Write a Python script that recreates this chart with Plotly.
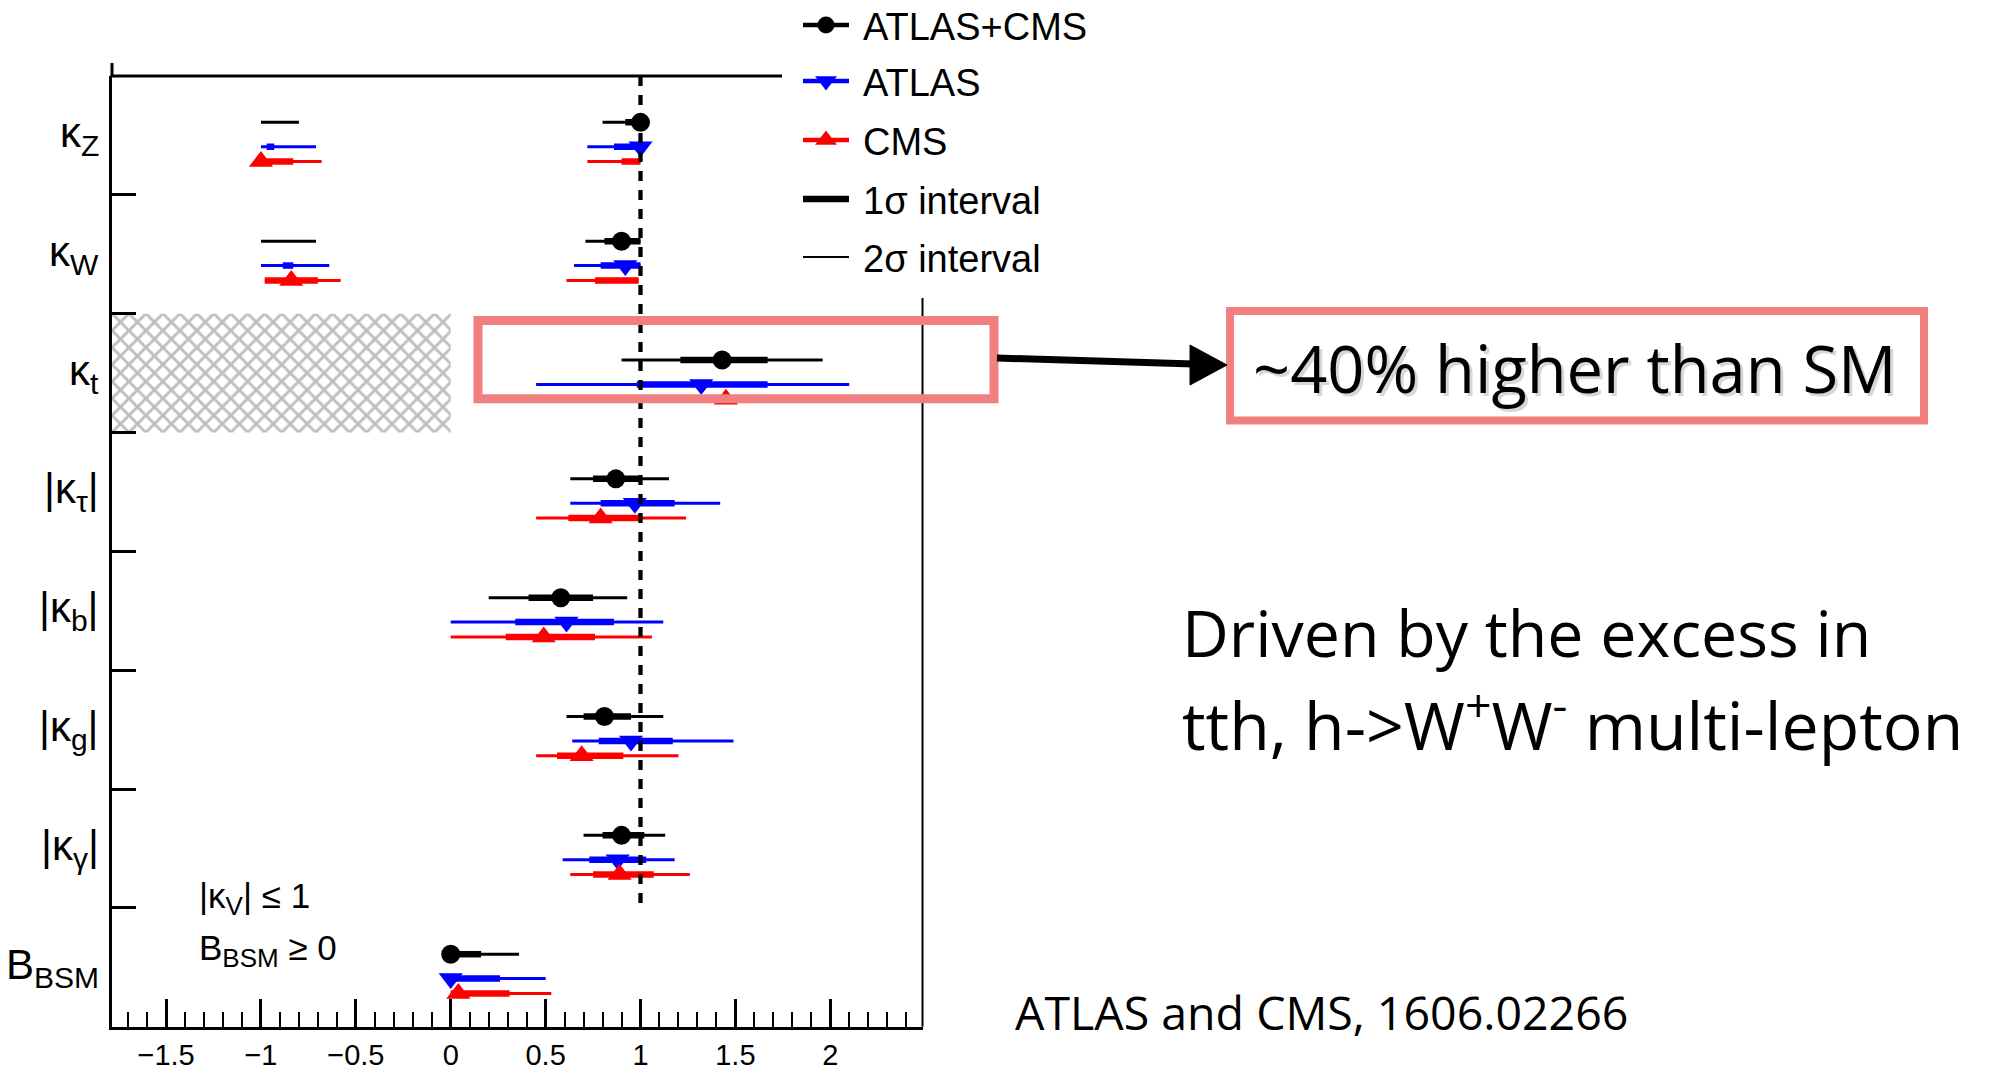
import plotly.graph_objects as go

# ---------------- data ----------------
categories = ["κ<sub>Z</sub>", "κ<sub>W</sub>", "κ<sub>t</sub>", "|κ<sub>τ</sub>|",
              "|κ<sub>b</sub>|", "|κ<sub>g</sub>|", "|κ<sub>γ</sub>|", "B<sub>BSM</sub>"]

comb_central = [1.00, 0.90, 1.43, 0.87, 0.58, 0.81, 0.90, 0.00]
comb_1sigma = [[(0.92, 1.00)], [(0.81, 1.00)], [(1.21, 1.67)], [(0.75, 1.00)],
               [(0.41, 0.75)], [(0.70, 0.95)], [(0.80, 1.02)], [(0.00, 0.16)]]
comb_2sigma = [[(-1.00, -0.80), (0.80, 1.00)], [(-1.00, -0.71), (0.71, 1.00)],
               [(0.90, 1.96)], [(0.63, 1.15)], [(0.20, 0.93)], [(0.61, 1.12)],
               [(0.70, 1.13)], [(0.00, 0.36)]]

atlas_central = [1.00, 0.92, 1.32, 0.97, 0.61, 0.95, 0.88, 0.00]
atlas_1sigma = [[(-0.97, -0.93), (0.86, 1.00)], [(-0.885, -0.83), (0.79, 1.00)],
                [(0.98, 1.67)], [(0.79, 1.18)], [(0.34, 0.86)], [(0.78, 1.17)],
                [(0.73, 1.03)], [(0.00, 0.26)]]
atlas_2sigma = [[(-1.00, -0.71), (0.72, 1.00)], [(-1.00, -0.64), (0.65, 1.00)],
                [(0.45, 2.10)], [(0.63, 1.42)], [(0.00, 1.12)], [(0.64, 1.49)],
                [(0.59, 1.18)], [(0.00, 0.50)]]

cms_central = [-1.00, -0.84, 1.45, 0.79, 0.49, 0.69, 0.89, 0.04]
cms_1sigma = [[(-1.00, -0.83), (0.90, 1.00)], [(-0.98, -0.70), (0.76, 0.99)],
              [(1.20, 1.75)], [(0.62, 1.00)], [(0.29, 0.76)], [(0.56, 0.91)],
              [(0.75, 1.07)], [(0.00, 0.31)]]
cms_2sigma = [[(-1.00, -0.68), (0.72, 1.00)], [(-0.98, -0.58), (0.61, 0.99)],
              [(1.00, 2.00)], [(0.45, 1.24)], [(0.00, 1.06)], [(0.45, 1.20)],
              [(0.63, 1.26)], [(0.00, 0.53)]]

sm_value = 1.0
kt_unphysical = [-1.785, 0.0]   # hatched region for kappa_t
x_range = [-1.785, 2.486]

# ---------------- styles ----------------
W, H = 1992, 1068
PL, PR, PT, PB = 112, 922.5, 76, 1026.7   # plot-area pixels
FONT = "Liberation Sans, Arial, Helvetica, sans-serif"
SLIDE_FONT = "Open Sans, sans-serif"
CORAL = "#F08080"

series = [
    dict(name="ATLAS+CMS", color="#000000", symbol="circle", size=19, off=0.39,
         c=comb_central, s1=comb_1sigma, s2=comb_2sigma),
    dict(name="ATLAS", color="#0000FF", symbol="triangle-down", size=21, off=0.595,
         c=atlas_central, s1=atlas_1sigma, s2=atlas_2sigma),
    dict(name="CMS", color="#FF0000", symbol="triangle-up", size=21, off=0.72,
         c=cms_central, s1=cms_1sigma, s2=cms_2sigma),
]


def sub(t, px):
    return "<sub><span style='font-size:%dpx'>%s</span></sub>" % (px, t)


fig = go.Figure()

# hatched region (kappa_t < 0)
kt_idx = categories.index("κ<sub>t</sub>")
fig.add_trace(go.Bar(
    y=[kt_idx + 0.5], x=[kt_unphysical[1] - kt_unphysical[0]], base=[kt_unphysical[0]],
    width=[1], orientation="h", showlegend=False, hoverinfo="skip",
    marker=dict(color="white", line_width=0,
                pattern=dict(shape="x", fgcolor="#BEBEBE", bgcolor="white",
                             size=12, solidity=0.42)),
))


def segs(intervals, off):
    xs, ys = [], []
    for i, ints in enumerate(intervals):
        for lo, hi in ints:
            xs += [lo, hi, None]
            ys += [i + off, i + off, None]
    return xs, ys


for s in series:
    x2, y2 = segs(s["s2"], s["off"])
    fig.add_trace(go.Scatter(x=x2, y=y2, mode="lines", showlegend=False,
                             line=dict(color=s["color"], width=3), hoverinfo="skip"))
for s in series:
    x1, y1 = segs(s["s1"], s["off"])
    fig.add_trace(go.Scatter(x=x1, y=y1, mode="lines", showlegend=False,
                             line=dict(color=s["color"], width=6.5), hoverinfo="skip"))
for s in series:
    fig.add_trace(go.Scatter(x=s["c"], y=[i + s["off"] for i in range(len(categories))],
                             mode="markers", showlegend=False, name=s["name"],
                             marker=dict(symbol=s["symbol"], size=s["size"],
                                         color=s["color"], line_width=0)))

# SM dashed line
fig.add_trace(go.Scatter(x=[sm_value, sm_value], y=[0, len(categories) - 1],
                         mode="lines", showlegend=False, hoverinfo="skip",
                         line=dict(color="black", width=4.3, dash="10px,9px")))

# ---------------- pixel overlay (legend, frame, annotation arrow) ----------------
leg_rows = [25, 81, 140, 199, 257]
leg_x0, leg_x1, leg_xm = 803, 849, 826
for s, ry in zip(series, leg_rows):
    fig.add_trace(go.Scatter(x=[leg_x0, leg_x1], y=[ry, ry], mode="lines",
                             xaxis="x2", yaxis="y2", showlegend=False, hoverinfo="skip",
                             line=dict(color=s["color"], width=4.5)))
    fig.add_trace(go.Scatter(x=[leg_xm], y=[ry], mode="markers", xaxis="x2", yaxis="y2",
                             showlegend=False, hoverinfo="skip",
                             marker=dict(symbol=s["symbol"], size=s["size"] - 2,
                                         color=s["color"], line_width=0)))
fig.add_trace(go.Scatter(x=[leg_x0, leg_x1], y=[leg_rows[3]] * 2, mode="lines",
                         xaxis="x2", yaxis="y2", showlegend=False, hoverinfo="skip",
                         line=dict(color="black", width=6.5)))
fig.add_trace(go.Scatter(x=[leg_x0, leg_x1], y=[leg_rows[4]] * 2, mode="lines",
                         xaxis="x2", yaxis="y2", showlegend=False, hoverinfo="skip",
                         line=dict(color="black", width=2)))

leg_texts = ["ATLAS+CMS", "ATLAS", "CMS", "1σ interval", "2σ interval"]
annotations = []
for t, ry in zip(leg_texts, leg_rows):
    annotations.append(dict(x=861, y=ry + 2, xref="x2", yref="y2", text=t,
                            showarrow=False, xanchor="left", yanchor="middle",
                            font=dict(family=FONT, size=38, color="black")))

# category labels on the left (bigger subscripts, as in the ROOT original)
for i, lab in enumerate(categories):
    main, rest = lab.split("<sub>")
    subtxt, tail = rest.split("</sub>")
    txt = main + sub(subtxt, 30) + tail
    annotations.append(dict(x=101, y=i + 0.5, xref="x2", yref="y", text=txt,
                            showarrow=False, xanchor="right", yanchor="middle",
                            font=dict(family=FONT, size=42, color="black")))

# fit conditions
annotations.append(dict(x=197, y=898, xref="x2", yref="y2",
                        text="|κ" + sub("V", 26) + "| ≤ 1",
                        showarrow=False, xanchor="left", yanchor="middle",
                        font=dict(family=FONT, size=35, color="black")))
annotations.append(dict(x=197, y=950, xref="x2", yref="y2",
                        text="B" + sub("BSM", 26) + " ≥ 0",
                        showarrow=False, xanchor="left", yanchor="middle",
                        font=dict(family=FONT, size=35, color="black")))

# slide texts (with a faint shadow under the boxed one)
box_text = "~40% higher than SM"
annotations.append(dict(x=1577.5, y=370.5, xref="x2", yref="y2", text=box_text,
                        showarrow=False, xanchor="center", yanchor="middle",
                        font=dict(family=SLIDE_FONT, size=65, color="rgba(0,0,0,0.16)")))
annotations.append(dict(x=1575, y=368, xref="x2", yref="y2", text=box_text,
                        showarrow=False, xanchor="center", yanchor="middle",
                        font=dict(family=SLIDE_FONT, size=65, color="black")))
annotations.append(dict(x=1180, y=632, xref="x2", yref="y2", text="Driven by the excess in",
                        showarrow=False, xanchor="left", yanchor="middle",
                        font=dict(family=SLIDE_FONT, size=64.5, color="black")))
annotations.append(dict(x=1180, y=720, xref="x2", yref="y2",
                        text="tth, h->W<sup>+</sup>W<sup>-</sup> multi-lepton",
                        showarrow=False, xanchor="left", yanchor="middle",
                        font=dict(family=SLIDE_FONT, size=66.2, color="black")))
annotations.append(dict(x=1013, y=1012, xref="x2", yref="y2", text="ATLAS and CMS, 1606.02266",
                        showarrow=False, xanchor="left", yanchor="middle",
                        font=dict(family=SLIDE_FONT, size=46.5, color="black")))

shapes = [
    # frame parts
    dict(type="line", xref="x2", yref="y2", x0=PL - 1.5, x1=782, y0=PT, y1=PT,
         line=dict(color="black", width=3)),
    dict(type="line", xref="x2", yref="y2", x0=PL, x1=PL, y0=63, y1=PT,
         line=dict(color="black", width=3)),
    dict(type="line", xref="x2", yref="y2", x0=PR, x1=PR, y0=298, y1=PB,
         line=dict(color="black", width=2)),
    # coral box around kappa_t
    dict(type="rect", xref="x2", yref="y2", x0=478, x1=994, y0=320.5, y1=398.8,
         line=dict(color=CORAL, width=9)),
    # coral text box
    dict(type="rect", xref="x2", yref="y2", x0=1230, x1=1924, y0=311, y1=420.5,
         line=dict(color=CORAL, width=8)),
    # arrow
    dict(type="line", xref="x2", yref="y2", x0=997, x1=1194, y0=358, y1=364,
         line=dict(color="black", width=7)),
    dict(type="path", xref="x2", yref="y2", path="M1190,345 L1227,365 L1190,385 Z",
         fillcolor="black", line=dict(color="black", width=1)),
]

fig.update_layout(
    template="none",
    width=W, height=H, autosize=False,
    margin=dict(l=0, r=0, t=0, b=0, pad=0, autoexpand=False),
    paper_bgcolor="white", plot_bgcolor="rgba(0,0,0,0)",
    showlegend=False,
    annotations=annotations, shapes=shapes,
    xaxis=dict(domain=[PL / W, PR / W], range=x_range, anchor="y", automargin=False,
               showline=True, linecolor="black", linewidth=3,
               ticks="inside", ticklen=28, tickwidth=2.5, tickcolor="black",
               tickmode="linear", tick0=0, dtick=0.5,
               minor=dict(ticks="inside", ticklen=15, tickwidth=2.2, tickcolor="black",
                          tick0=0, dtick=0.1, showgrid=False),
               ticklabelstandoff=0,
               tickfont=dict(family=FONT, size=29, color="black"),
               showgrid=False, zeroline=False),
    yaxis=dict(domain=[(H - PB) / H, (H - PT) / H], range=[len(categories), 0],
               anchor="x", automargin=False, showline=True, linecolor="black", linewidth=3,
               ticks="inside", ticklen=24, tickwidth=3, tickcolor="black",
               tickmode="array", tickvals=list(range(len(categories) + 1)),
               showticklabels=False, showgrid=False, zeroline=False),
    xaxis2=dict(domain=[0, 1], range=[0, W], anchor="y2", visible=False, automargin=False),
    yaxis2=dict(domain=[0, 1], range=[H, 0], anchor="x2", visible=False, automargin=False),
)

fig.write_html("out.html",
               config={"displayModeBar": False, "responsive": False},
               post_script="document.body.style.margin='0px';"
                           "document.body.style.overflow='hidden';")
